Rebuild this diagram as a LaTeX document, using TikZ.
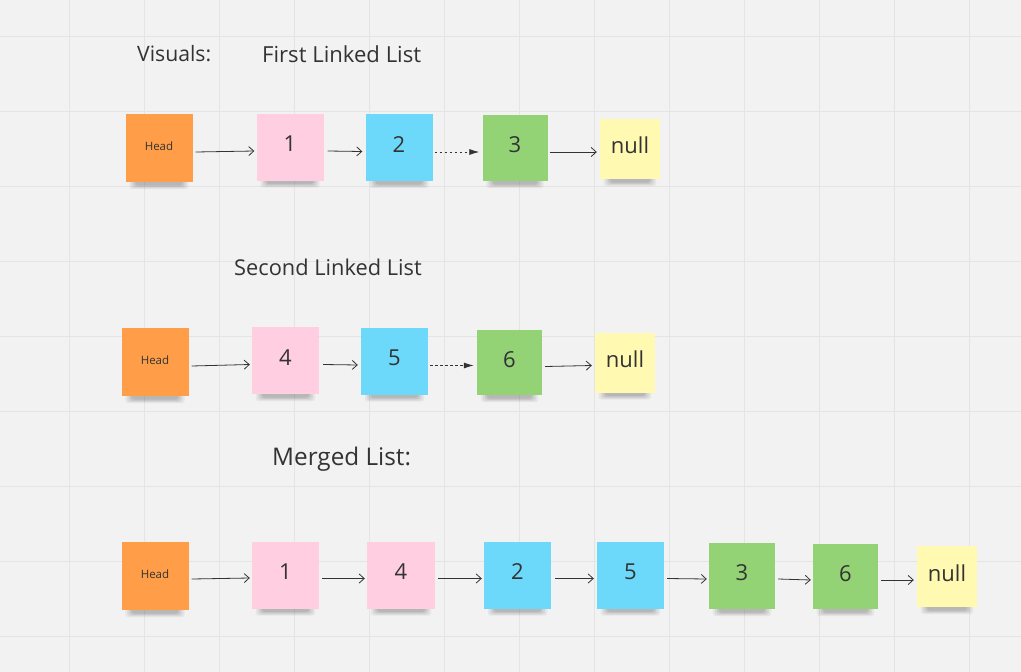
\documentclass[tikz,border=0pt]{standalone}
\usepackage{fontspec}
\setmainfont{Open Sans}
\usetikzlibrary{arrows.meta,backgrounds}
\definecolor{bg}{HTML}{F2F2F2}
\definecolor{gridc}{HTML}{E4E4E4}
\definecolor{txt}{HTML}{333333}
\definecolor{sorange}{HTML}{FF9D48}
\definecolor{spink}{HTML}{FFCEE0}
\definecolor{sblue}{HTML}{6CD8FA}
\definecolor{sgreen}{HTML}{93D275}
\definecolor{syellow}{HTML}{FFF9B1}
\tikzset{
  note/.style={minimum width=67pt, minimum height=67pt, inner sep=0pt, text=txt,
    font=\fontsize{22}{25}\selectfont, text height=15.5pt, text depth=6.5pt},
  headnote/.style={note, fill=sorange, minimum height=68pt, font=\fontsize{11.5}{13}\selectfont,
    text height=8pt, text depth=2.5pt},
  nullnote/.style={note, fill=syellow, minimum width=60pt, minimum height=60pt},
  title/.style={text=txt, font=\fontsize{21.8}{25}\selectfont, inner sep=0pt},
  arr/.style={draw=txt, line width=0.8pt, -{Straight Barb[length=5pt,width=9pt,line width=0.8pt]}},
  darr/.style={draw=txt, line width=0.8pt, dash pattern=on 2.5pt off 2.5pt, -{Latex[length=10pt,width=6pt]}},
}
\newcommand{\noteshadow}[1]{%
  \foreach \s/\o in {0/0.05,1/0.06,2/0.07,3/0.08} {
    \fill[black, opacity=\o, rounded corners=3pt]
      ([xshift={4pt+2*\s pt},yshift=4pt]#1.south west) rectangle ([xshift={-4pt-2*\s pt},yshift={-7pt+1.2*\s pt}]#1.south east);
  }
}
\begin{document}
\begin{tikzpicture}[x=1pt,y=-1pt]
\useasboundingbox (0,0) rectangle (1021,672);
\begin{scope}[on background layer]
  \fill[bg] (0,0) rectangle (1021,672);
  \foreach \k in {0,...,12} \draw[gridc, line width=1pt] ({69+75*\k},0) -- ({69+75*\k},672);
  \foreach \k in {0,...,8} \draw[gridc, line width=1pt] (0,{36+75*\k}) -- (1021,{36+75*\k});
\end{scope}

% titles
\node[title, anchor=west, font=\fontsize{21.2}{25}\selectfont] (tvis) at (137,54) {Visuals:};
\node[title, anchor=west, font=\fontsize{22.1}{25}\selectfont] (tfirst) at (262,54) {First Linked List};
\node[title, anchor=west] (tsecond) at (234,267) {Second Linked List};
\node[title, anchor=west, font=\fontsize{24.3}{28}\selectfont] (tmerged) at (272,459) {Merged List:};

% row 1
\node[headnote] (ah) at (159,148) {Head};
\node[note, fill=spink] (a1) at (290,147) {1};
\node[note, fill=sblue] (a2) at (399,147.5) {2};
\node[note, fill=sgreen, minimum width=65pt, minimum height=66pt] (a3) at (515,148) {3};
\node[nullnote] (an) at (630,149) {null};

% row 2
\node[headnote] (bh) at (155,362) {Head};
\node[note, fill=spink] (b4) at (285.5,360.5) {4};
\node[note, fill=sblue] (b5) at (394.5,361) {5};
\node[note, fill=sgreen, minimum width=65pt, minimum height=65pt] (b6) at (509.5,362.5) {6};
\node[nullnote] (bn) at (625,362.5) {null};

% row 3
\node[headnote] (ch) at (155,576) {Head};
\node[note, fill=spink] (c1) at (285.5,575) {1};
\node[note, fill=spink, minimum width=68pt] (c4) at (401,575) {4};
\node[note, fill=sblue] (c2) at (517.5,575) {2};
\node[note, fill=sblue] (c5) at (630.5,575) {5};
\node[note, fill=sgreen, minimum width=66pt, minimum height=66pt] (c3) at (742,576) {3};
\node[note, fill=sgreen, minimum width=65pt, minimum height=65pt] (c6) at (845.5,576.5) {6};
\node[nullnote, minimum height=61pt] (cn) at (947,576.5) {null};

\begin{scope}[on background layer]
  \foreach \n in {ah,a1,a2,a3,an,bh,b4,b5,b6,bn,ch,c1,c4,c2,c5,c3,c6,cn} {\noteshadow{\n}}
\end{scope}

% arrows row 1
\draw[arr] ([xshift=3pt,yshift=-4pt]ah.east) -- ([xshift=-2pt,yshift=-4pt]a1.west);
\draw[arr] ([xshift=4pt,yshift=-4pt]a1.east) -- ([xshift=-3pt,yshift=-4pt]a2.west);
\draw[darr] ([xshift=2pt,yshift=-4.5pt]a2.east) -- ([xshift=-3pt,yshift=-4pt]a3.west);
\draw[arr] ([xshift=2pt,yshift=-4pt]a3.east) -- ([xshift=-3pt,yshift=-3pt]an.west);

% arrows row 2
\draw[arr] ([xshift=3pt,yshift=-4pt]bh.east) -- ([xshift=-2pt,yshift=-4pt]b4.west);
\draw[arr] ([xshift=4pt,yshift=-4pt]b4.east) -- ([xshift=-3pt,yshift=-4pt]b5.west);
\draw[darr] ([xshift=2pt,yshift=-4.5pt]b5.east) -- ([xshift=-3pt,yshift=-3pt]b6.west);
\draw[arr] ([xshift=3pt,yshift=-4pt]b6.east) -- ([xshift=-3pt,yshift=-3pt]bn.west);

% arrows row 3
\draw[arr] ([xshift=3pt,yshift=-3pt]ch.east) -- ([xshift=-2pt,yshift=-3pt]c1.west);
\draw[arr] ([xshift=3pt,yshift=-3.5pt]c1.east) -- ([xshift=-2pt,yshift=-3.5pt]c4.west);
\draw[arr] ([xshift=3pt,yshift=-3.5pt]c4.east) -- ([xshift=-2pt,yshift=-3.5pt]c2.west);
\draw[arr] ([xshift=4pt,yshift=-3.5pt]c2.east) -- ([xshift=-3pt,yshift=-3.5pt]c5.west);
\draw[arr] ([xshift=3pt,yshift=-3.5pt]c5.east) -- ([xshift=-2pt,yshift=-3pt]c3.west);
\draw[arr] ([xshift=3pt,yshift=-3pt]c3.east) -- ([xshift=-2pt,yshift=-3.5pt]c6.west);
\draw[arr] ([xshift=3pt,yshift=-3.5pt]c6.east) -- ([xshift=-3pt,yshift=-3.5pt]cn.west);
\end{tikzpicture}
\end{document}
